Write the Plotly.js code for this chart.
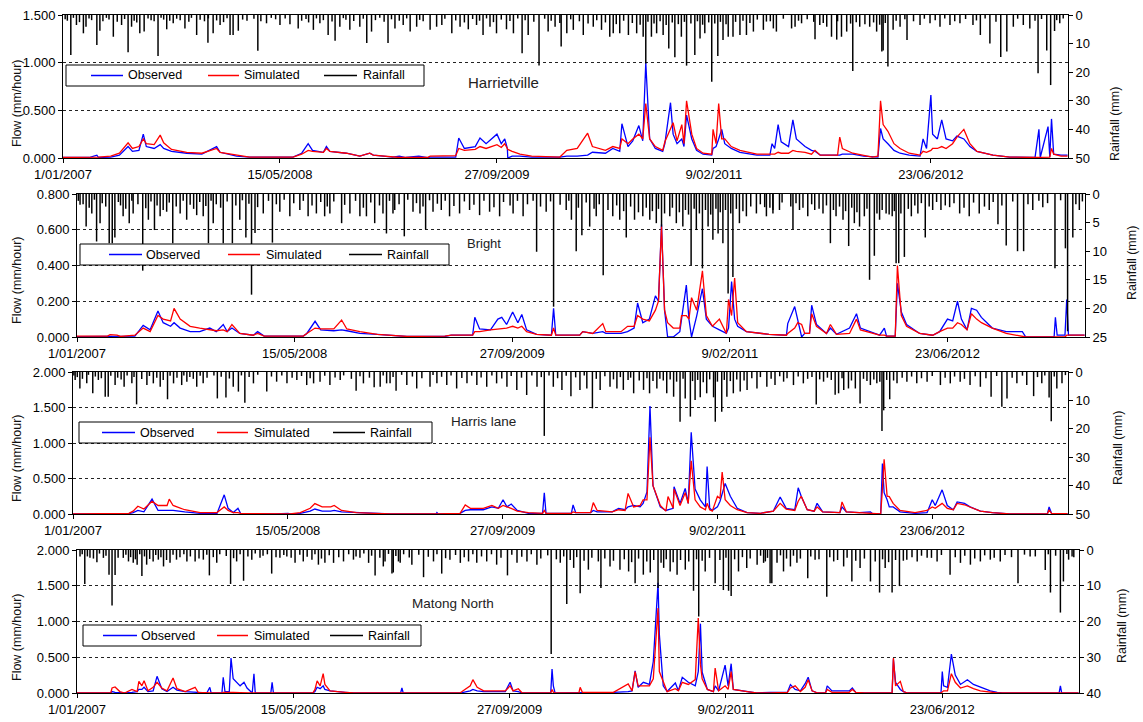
<!DOCTYPE html>
<html><head><meta charset="utf-8">
<script src="https://cdn.plot.ly/plotly-3.0.1.min.js"></script>
<style>html,body{margin:0;padding:0;background:#fff}#chart{width:1143px;height:722px}</style>
</head><body><div id="chart"></div>
<script>
// ---------- DATA (day offsets from 1/01/2007; flow in mm/hour; rain in mm) ----------
const seriesNames = ['Observed', 'Simulated', 'Rainfall'];
const siteNames = ['Harrietville', 'Bright', 'Harris lane', 'Matong North'];
const axisTitles = ['Flow (mm/hour)', 'Rainfall (mm)'];
const tickLabelStart = '2007-01-01';

// [day, observed, simulated]
const harrietvilleFlow = [[0,.005,.005],[60,.005,.005],[78,.03,.005],[82,.005,.01],[110,.01,.02],[130,.03,.05],[150,.12,.16],[160,.07,.1],[175,.08,.12],[185,.25,.2],[192,.12,.15],[210,.1,.14],[224,.14,.24],[232,.1,.16],[250,.07,.09],[285,.05,.06],[320,.04,.05],[354,.12,.1],[362,.06,.06],[400,.02,.03],[430,.01,.01],[530,.01,.01],[550,.05,.04],[565,.15,.08],[575,.08,.07],[600,.06,.06],[607,.12,.1],[615,.07,.07],[653,.05,.05],[684,.02,.02],[707,.05,.05],[715,.03,.03],[760,.01,.01],[775,.02,.005],[790,.005,.005],[820,.02,.005],[840,.005,.005],[846,.01,.02],[905,.01,.025],[912,.21,.1],[925,.1,.08],[950,.12,.09],[961,.21,.12],[975,.15,.1],[1000,.25,.14],[1010,.15,.11],[1018,.2,.15],[1024,.1,.1],[1025,0,.09],[1035,.02,.07],[1053,.02,.04],[1080,.01,.02],[1145,.01,.01],[1161,.02,.08],[1185,.02,.1],[1209,.03,.26],[1220,.06,.12],[1250,.05,.08],[1267,.1,.12],[1283,.07,.1],[1288,.36,.2],[1302,.12,.15],[1313,.18,.2],[1327,.34,.25],[1336,.18,.2],[1343,1.0,.57],[1352,.2,.2],[1365,.1,.12],[1382,.07,.08],[1387,.15,.17],[1400,.58,.3],[1406,.25,.37],[1415,.15,.18],[1426,.2,.35],[1431,.12,.15],[1437,.45,.6],[1449,.2,.25],[1460,.08,.1],[1475,.04,.05],[1495,.03,.04],[1498,.1,.3],[1505,.12,.15],[1511,.2,.57],[1518,.3,.2],[1525,.15,.2],[1540,.1,.12],[1560,.06,.08],[1599,.03,.04],[1629,.03,.04],[1634,.15,.04],[1640,.1,.04],[1648,.35,.06],[1655,.17,.05],[1672,.12,.05],[1682,.4,.08],[1690,.2,.07],[1710,.12,.06],[1725,.08,.04],[1733,.07,.08],[1745,.03,.03],[1785,.03,.03],[1790,.03,.22],[1796,.04,.1],[1820,.04,.05],[1845,.02,.03],[1865,.01,.01],[1878,.01,.02],[1884,.31,.6],[1890,.2,.35],[1901,.15,.28],[1915,.08,.15],[1929,.05,.1],[1950,.03,.05],[1975,.02,.03],[1982,.2,.07],[1990,.1,.06],[2000,.66,.08],[2004,.25,.1],[2015,.2,.1],[2025,.4,.12],[2035,.2,.1],[2050,.18,.15],[2060,.23,.22],[2076,.2,.3],[2090,.12,.15],[2106,.07,.07],[2143,.03,.03],[2182,.01,.01],[2240,.005,.005],[2249,.3,.005],[2252,.005,.005],[2270,.33,.01],[2274,.01,.01],[2278,.41,.1],[2283,.04,.04],[2300,.03,.02],[2315,.03,.02]];

const brightFlow = [[0,.002,.005],[70,.002,.005],[76,.002,.013],[92,.002,.01],[100,.002,.003],[133,.005,.01],[152,.065,.05],[168,.04,.03],[186,.145,.12],[198,.08,.1],[215,.06,.09],[223,.08,.16],[237,.05,.1],[260,.03,.06],[282,.03,.05],[305,.05,.04],[320,.03,.035],[336,.07,.04],[345,.03,.03],[356,.05,.07],[374,.02,.02],[405,.01,.01],[415,.03,.02],[430,.005,.005],[520,.005,.005],[528,.02,.02],[547,.088,.05],[560,.04,.045],[590,.035,.045],[608,.04,.095],[620,.035,.045],[650,.02,.03],[690,.015,.015],[758,.003,.003],[845,.003,.005],[860,.01,.01],[909,.01,.01],[914,.11,.03],[925,.045,.03],[950,.04,.04],[967,.1,.045],[976,.11,.05],[987,.07,.05],[1001,.14,.06],[1013,.08,.05],[1022,.126,.06],[1033,.04,.03],[1056,.015,.015],[1090,.01,.01],[1095,.16,.05],[1100,.01,.01],[1155,.01,.01],[1162,.03,.03],[1185,.02,.02],[1208,.03,.075],[1215,.02,.03],[1250,.02,.03],[1265,.03,.06],[1280,.05,.06],[1288,.19,.12],[1300,.08,.1],[1315,.1,.09],[1329,.23,.15],[1336,.2,.2],[1343,.63,.62],[1350,.15,.15],[1357,0,.08],[1370,0,.05],[1385,.03,.05],[1389,.1,.12],[1400,.29,.12],[1406,.1,.1],[1412,0,.22],[1424,.12,.15],[1437,.27,.37],[1446,.1,.12],[1460,.06,.06],[1476,.04,.1],[1492,.02,.02],[1497,.05,.21],[1504,.31,.12],[1511,.1,.33],[1518,.06,.08],[1538,.03,.03],[1590,.015,.015],[1630,.01,.01],[1633,.075,.02],[1649,.17,.05],[1656,.09,.08],[1665,0,.07],[1672,.02,.02],[1683,.02,.02],[1688,.178,.13],[1699,.07,.06],[1722,.02,.02],[1731,.05,.07],[1745,.015,.015],[1775,.05,.02],[1791,.13,.1],[1800,.05,.04],[1844,.01,.01],[1855,.05,.01],[1860,.005,.005],[1880,.005,.005],[1885,.3,.4],[1894,.14,.12],[1906,.07,.06],[1936,.02,.02],[1966,.01,.01],[1982,.03,.03],[2000,.1,.05],[2012,.09,.05],[2023,.2,.08],[2032,.1,.07],[2045,.04,.04],[2055,.16,.13],[2067,.15,.1],[2078,.11,.08],[2103,.05,.05],[2135,.03,.02],[2172,.03,.005],[2180,0,0],[2245,0,0],[2248,.11,0],[2252,.01,0],[2270,.01,0],[2274,.21,.01],[2278,.01,.01],[2315,.01,.01]];

const harrisLaneFlow = [[0,0,0],[75,0,0],[79,0,.008],[85,0,0],[130,.005,.01],[140,.02,.04],[151,.05,.11],[165,.03,.07],[184,.21,.18],[198,.05,.12],[219,.05,.12],[224,.06,.21],[233,.05,.12],[260,.03,.06],[296,.01,.02],[335,.005,.02],[352,.27,.1],[361,.08,.05],[373,.02,.02],[384,.08,.02],[390,.01,.01],[430,.005,.005],[470,0,0],[501,.01,0],[505,0,0],[529,.01,.02],[552,.04,.08],[563,.07,.146],[580,.04,.1],[600,.04,.1],[608,.05,.12],[625,.03,.05],[660,.02,.02],[700,.01,.01],[740,0,0],[845,0,0],[847,.02,0],[850,0,0],[901,.01,.01],[913,.05,.127],[925,.06,.08],[955,.06,.08],[966,.08,.1],[975,.1,.12],[990,.08,.08],[1001,.2,.12],[1010,.1,.1],[1020,.14,.08],[1034,.05,.04],[1060,.01,.02],[1093,.01,.01],[1097,.3,.05],[1101,.01,.01],[1160,.01,.01],[1164,.127,.03],[1170,.02,.02],[1205,.02,.02],[1211,.05,.16],[1220,.03,.05],[1255,.03,.03],[1270,.08,.06],[1285,.06,.05],[1292,.1,.29],[1305,.12,.1],[1320,.1,.12],[1327,.15,.2],[1336,.31,.2],[1343,1.52,1.08],[1350,.4,.4],[1367,.1,.12],[1380,.05,.04],[1385,.06,.245],[1397,.08,.08],[1399,.385,.35],[1413,.15,.12],[1425,.36,.3],[1432,.15,.15],[1439,1.15,.75],[1448,.35,.2],[1460,.2,.1],[1472,.1,.06],[1476,.67,.15],[1482,.08,.06],[1488,.05,.04],[1500,.1,.25],[1506,.18,.22],[1511,.3,.59],[1518,.43,.2],[1530,.25,.12],[1546,.08,.06],[1569,.02,.02],[1600,.01,.01],[1630,.04,.04],[1646,.24,.15],[1660,.08,.07],[1680,.06,.05],[1688,.37,.18],[1695,.25,.25],[1709,.06,.06],[1725,.04,.04],[1732,.15,.1],[1745,.03,.03],[1785,.02,.02],[1790,.1,.17],[1800,.03,.03],[1830,.02,.02],[1856,.03,.01],[1862,0,0],[1880,0,0],[1884,.71,.35],[1888,.3,.77],[1895,.2,.25],[1900,.1,.245],[1909,.1,.15],[1925,.03,.05],[1960,.01,.02],[1988,.02,.05],[2000,.2,.1],[2007,.12,.08],[2023,.34,.15],[2035,.12,.08],[2049,.06,.06],[2058,.17,.15],[2075,.15,.13],[2088,.1,.1],[2112,.04,.04],[2140,.02,.02],[2158,.01,.01],[2180,0,0],[2268,0,0],[2272,.1,.06],[2278,.005,.005],[2315,.005,.005]];

const matongNorthFlow = [[0,0,0],[78,0,0],[81,.02,.07],[88,.01,.084],[99,.005,.02],[110,0,0],[127,.01,.05],[139,.02,.02],[143,.05,.163],[150,.05,.1],[155,.08,.17],[164,.02,.03],[176,.03,.08],[185,.233,.15],[196,.06,.07],[208,.02,.03],[222,.08,.21],[231,.04,.06],[250,.02,.02],[273,.01,.08],[280,.01,.01],[300,0,0],[307,.08,0],[310,0,0],[335,0,0],[338,.22,.01],[342,.02,.01],[352,.02,.01],[356,.49,.02],[361,.2,.01],[377,.1,.005],[386,.15,0],[393,.07,0],[400,.03,0],[405,0,0],[409,.27,0],[412,0,0],[448,0,0],[451,.15,0],[454,0,0],[545,0,0],[550,.02,.05],[555,.08,.17],[562,.06,.1],[569,.1,.27],[573,.05,.12],[585,.03,.03],[620,.01,.01],[640,0,0],[748,0,0],[751,.07,0],[754,0,0],[885,0,0],[890,.005,.02],[909,.03,.1],[915,.05,.187],[925,.03,.08],[940,.02,.03],[990,.02,.03],[1001,.15,.1],[1008,.03,.03],[1020,.02,.06],[1029,0,0],[1095,0,0],[1098,.336,.05],[1101,.1,.01],[1105,0,0],[1160,0,0],[1163,.01,.08],[1168,.01,.01],[1240,.01,.01],[1274,.02,.126],[1283,.03,.03],[1290,.31,.3],[1297,.08,.1],[1309,.15,.1],[1323,.12,.1],[1332,.44,.2],[1343,1.54,1.19],[1346,.82,.3],[1355,.1,.15],[1364,.02,.02],[1383,.14,.06],[1390,.03,.03],[1399,.22,.15],[1413,.15,.12],[1429,.1,.187],[1436,.3,1.05],[1441,.97,.4],[1445,.29,.2],[1457,.05,.05],[1471,.02,.02],[1475,.1,.35],[1483,.03,.03],[1498,.39,.1],[1505,.1,.05],[1512,.41,.3],[1517,.05,.05],[1549,.02,.02],[1570,0,0],[1602,.01,0],[1642,.01,.01],[1649,.117,.07],[1660,.05,.1],[1672,.03,.02],[1683,.13,.08],[1690,.22,.186],[1699,.03,.03],[1712,0,0],[1730,0,0],[1734,.1,.05],[1745,.03,.01],[1785,.03,.01],[1792,.07,.05],[1800,.01,.01],[1820,0,0],[1884,0,0],[1887,.47,.49],[1892,.15,.1],[1903,.05,.163],[1910,.02,.02],[1920,0,0],[1997,0,0],[2000,.3,.01],[2003,.1,.03],[2012,.08,.03],[2021,.545,.27],[2030,.25,.15],[2042,.12,.07],[2058,.186,.1],[2072,.12,.06],[2088,.08,.03],[2111,.03,.01],[2127,.01,0],[2140,0,0],[2270,0,0],[2273,.1,0],[2276,0,0],[2315,0,0]];

// [day, rainfall mm]
const harrietvilleRain = [[18,14],[78,10.5],[150,13],[219,14.3],[334,9.7],[449,12.5],[627,9],[700,9.8],[749,9.8],[1058,13.4],[1097,17.7],[1148,11],[1343,17],[1396,11.7],[1410,14.8],[1437,17.7],[1456,14],[1495,23.3],[1509,14.3],[1733,8.5],[1783,8.6],[1820,19.6],[1887,12.8],[1901,18],[1945,8.7],[2136,10],[2161,14.7],[2175,12.8],[2247,20.4],[2267,12.4],[2276,24.5],[2285,5.6],
[31,3.5],[47,6.4],[53,4.1],[85,5.5],[116,7.6],[135,3.5],[158,4.1],[177,6.4],[187,5.8],[239,5],[254,2.9],[281,4.7],[308,7],[346,6.4],[362,3.5],[385,7],[392,7],[404,5.5],[469,2.9],[500,3.5],[523,3.2],[542,4.7],[577,5.2],[592,2.9],[611,7],[638,4.1],[661,5.2],[684,4.1],[711,5.8],
[765,4.7],[784,3.5],[800,5.8],[815,4.1],[846,5.2],[861,4.1],[873,3.5],[896,6.4],[915,4.1],[934,5],[953,3.5],[968,7],[984,4.1],[999,6.4],[1022,5],[1038,6.4],[1072,7],[1118,5.8],[1134,4.1],[1161,6.4],[1176,5.2],[1199,7],[1222,4.1],[1241,5.2],[1260,7.6],[1268,6.4],[1283,6.4],[1303,7],[1322,6.4],[1337,7.6],[1356,7.6],[1368,6.4],[1383,7],[1425,7.6],[1468,8.2],[1479,6.4],[1521,8.7],[1533,7.6],[1544,7.6],[1560,7],[1575,7],[1591,5.8],[1614,5.2],[1637,4.7],
[1621,2.3],[1644,5.8],[1679,4.7],[1687,4.1],[1702,2.9],[1744,3.5],[1760,4.1],[1771,7.6],[1794,7.6],[1806,5.8],[1836,4.1],[1859,4.1],[1875,5.8],[1890,12.4],[1913,5.2],[1929,4.1],[1975,3.5],[1998,2.9],[2021,4.1],[2044,3.5],[2067,2.9],[2097,3.5],[2114,7],[2190,4.1],[2213,3.5],[2228,4.7],[2297,2.9],
[5,1.5],[10,2],[24,1],[38,2.5],[60,1.2],[66,1.8],[92,2.2],[100,1],[106,1.6],[125,2.4],[142,1.4],[164,2],[170,2.6],[196,1.2],[203,1.8],[210,2.2],[226,1],[232,1.6],[246,2],[262,1.3],[270,1.8],[290,2.4],[296,1],[316,1.7],[326,2.2],[335,1.2],[354,1.9],[370,2.5],[378,1.1],[414,1.6],[424,2],[440,1.3],[456,2.2],[480,1],[490,1.5],[512,1.2],[550,2],[560,1.4],[566,2.6],[584,1.2],[600,1.8],[620,2.3],[646,1.1],[652,1.7],[670,2.1],[692,1.3],[720,1.8],[730,1],[740,2.4],[757,1.5],[775,2],[792,1.2],[822,1.7],[830,2.2],[880,1.3],[905,1.9],[925,2.6],[944,1.4],[960,2],[976,1.2],[992,2.5],[1010,1.6],[1030,2.1],[1048,1.2],[1065,1.8],[1085,2.4],[1110,1.3],[1125,2],[1145,2.8],[1170,1.5],[1190,2.2],[1210,3],[1230,1.8],[1250,2.6],[1275,3.2],[1292,2],[1312,2.8],[1330,3.4],[1348,2.4],[1362,3],[1376,2.2],[1390,3.5],[1404,2.6],[1418,3.2],[1432,2.4],[1447,3],[1462,2.2],[1474,3.4],[1488,2.6],[1502,3],[1515,2.4],[1528,3.2],[1550,2.4],[1567,2],[1583,2.8],[1600,1.6],[1630,2.2],[1660,1.3],[1695,2],[1715,1.5],[1730,2.4],[1752,2.8],[1785,2.2],[1815,3],[1828,2.5],[1848,3.2],[1868,2.6],[1882,3.4],[1895,2.8],[1920,2],[1940,1.5],[1960,2.2],[1985,1.3],[2010,1.8],[2032,1.2],[2055,2.2],[2080,1.4],[2105,1.9],[2125,1.2],[2150,2.4],[2200,1.3],[2240,2],[2255,1.4],[2290,1.8],[2305,1.2]];

const brightRain = [[21,5.7],[45,8.3],[74,8.6],[81,8.6],[87,7.6],[120,5.1],[151,13.4],[178,6.3],[220,8.6],[302,8.6],[336,8.6],[357,8.6],[388,7.6],[401,17.6],[409,6.8],[449,8.5],[608,5.1],[711,6.9],[752,7.4],[801,6.2],[1056,10.1],[1095,19.7],[1147,10],[1160,7.2],[1209,14.2],[1262,7.6],[1343,5.7],[1411,12.4],[1437,13],[1461,8],[1473,6.9],[1484,8.6],[1496,17.4],[1507,14.5],[1645,6.2],[1731,8.6],[1773,9.1],[1821,15],[1832,10.8],[1882,12.1],[1888,12.1],[1901,11],[1949,7.6],[2135,9],[2161,10],[2175,10],[2247,13],[2271,9.5],[2276,24],[2288,7.6],
[7,1.9],[34,3.4],[53,5.1],[106,3.9],[129,3.4],[164,4.5],[191,3.9],[206,3.1],[237,3.4],[252,4.5],[275,3.7],[290,3.9],[313,5.1],[374,4.5],[428,3.4],[466,3.1],[489,3.9],[512,2.8],[531,3.9],[550,3.4],[569,3.9],[581,3.4],[627,3.4],[650,3.9],[665,3.9],[684,5.1],[726,3.4],
[703,3.4],[730,2.8],[772,3.1],[788,3.4],[818,3.1],[837,2.8],[856,3.9],[879,3.4],[902,2.8],[925,3.7],[948,3.1],[971,3.9],[1002,3.4],[1025,3.9],[1078,3.1],[1124,2.8],[1136,4.5],[1178,5.7],[1193,3.9],[1231,3.9],[1247,4.5],[1281,4.5],[1300,3.9],[1316,4.5],[1331,5.1],[1362,3.9],[1377,5.1],[1392,5.7],[1423,6.3],[1450,5.7],[1522,5.1],[1538,3.9],[1561,3.4],[1584,3.9],[1599,2.8],
[1580,2.3],[1599,3.4],[1614,2.8],[1660,2.8],[1679,3.9],[1695,2.8],[1714,3.4],[1744,3.9],[1760,4.5],[1786,5.1],[1798,5.7],[1809,3.9],[1844,4.5],[1859,3.4],[1873,3.9],[1917,3.9],[1932,3.4],[1966,2.8],[1985,2.8],[2005,2.3],[2028,3.4],[2050,3.9],[2073,3.4],[2096,2.8],[2116,5.3],[2196,2.8],[2219,2.3],[2303,2.8],
[3,1.2],[14,1.8],[28,2.4],[40,1],[58,1.6],[66,2.2],[95,1.4],[100,2],[112,2.6],[126,1.2],[140,1.8],[158,2.5],[170,1.3],[184,2],[198,2.8],[212,1.5],[228,2.2],[244,1.2],[260,1.9],[268,2.6],[282,1.4],[296,2.1],[308,1.2],[320,1.8],[330,2.4],[345,1.3],[365,2],[380,1.1],[395,1.7],[415,2.3],[440,1.2],[458,1.8],[476,1],[498,1.6],[520,1.2],[540,2],[560,1.4],[575,2.2],[590,1.3],[615,1.9],[640,1.2],[658,2.4],[675,1.5],[695,2],[718,1.2],[740,1.8],[760,1],[780,1.6],[795,2.2],[810,1.1],[828,1.7],[846,1.2],[866,2.1],[890,1.3],[912,1.9],[935,1.2],[958,2.3],[980,1.4],[995,2],[1012,1.2],[1035,1.8],[1048,1.2],[1065,2.2],[1088,1.3],[1110,1.9],[1130,1.2],[1152,2.4],[1170,1.5],[1188,2.6],[1200,1.8],[1220,2.8],[1240,2],[1256,3],[1272,2.2],[1290,3.2],[1308,2.4],[1322,3],[1336,2.6],[1350,3.4],[1368,2.4],[1384,3.2],[1398,2.8],[1405,3.6],[1418,2.6],[1430,3.4],[1444,2.8],[1456,3.6],[1468,2.6],[1478,3.2],[1490,2.8],[1502,3.4],[1515,2.6],[1530,3],[1548,2.2],[1570,1.8],[1592,2.4],[1620,1.5],[1640,2.2],[1652,1.6],[1668,2.4],[1688,1.8],[1705,2.6],[1722,2],[1738,2.8],[1752,2.2],[1766,3],[1780,2.4],[1792,3.2],[1815,2.6],[1838,3.4],[1850,2.8],[1866,3.6],[1878,3],[1893,3.4],[1910,2.6],[1925,2],[1940,1.6],[1958,2.2],[1975,1.4],[1995,2],[2015,1.6],[2038,2.4],[2060,1.5],[2085,2.2],[2105,1.4],[2125,2],[2150,1.3],[2185,1.8],[2210,1.2],[2230,1.6],[2260,1.1],[2295,1.8],[2310,1.3]];

const harrisLaneRain = [[16,5.8],[46,7.5],[75,8.7],[82,8.7],[148,11.4],[220,9.6],[336,9.3],[356,9],[400,10.8],[659,6.6],[701,5.4],[752,6.6],[800,5.8],[1056,8.1],[1097,22.5],[1159,8.5],[1209,12.8],[1342,7.5],[1413,17.5],[1437,15.7],[1460,8.9],[1491,8.9],[1495,17.5],[1510,14],[1730,11.4],[1774,8],[1832,11.1],[1883,20.8],[1887,13.5],[1901,9.6],[2137,8.7],[2162,12.2],[2174,9.3],[2236,8.5],[2272,9],[2277,17.3],[2290,5.8],
[5,2.8],[32,4],[59,2.8],[98,4.6],[119,5.2],[137,4],[172,4.6],[187,4],[203,5.2],[234,4],[253,4.6],[265,3.4],[288,5.2],[303,4],[373,5.2],[385,6.9],[420,4],[451,6.9],[474,3.4],[498,4],[521,2.8],[544,4.6],[560,4],[575,3.4],[598,4.6],[622,2.8],[676,4],[715,5.2],[730,4],
[738,4],[777,4.6],[831,5.2],[847,4],[870,4.6],[893,5.8],[917,4],[940,4.6],[963,5.2],[986,4],[1010,5.2],[1033,6.3],[1080,5.2],[1118,5.2],[1138,6.3],[1180,6.3],[1196,5.8],[1227,6.3],[1250,5.2],[1266,5.8],[1281,6.3],[1305,7.5],[1328,6.3],[1359,5.8],[1382,7.5],[1398,8.7],[1425,9.3],[1448,9.9],[1475,7.5],[1522,8.7],[1537,7.5],[1553,6.9],[1569,6.3],[1592,5.8],[1615,5.2],[1634,4.6],
[1654,3.4],[1677,4.6],[1700,4],[1747,3.4],[1782,7.5],[1794,6.3],[1805,5.8],[1821,5.8],[1856,4.6],[1871,4],[1918,4],[1941,3.4],[1964,4],[1988,3.4],[2019,4.6],[2042,4],[2065,3.4],[2088,4.6],[2112,5.2],[2197,4],[2220,4.6],[2255,4],[2302,4],
[2,1.2],[10,1.8],[22,2.4],[36,1],[52,1.6],[66,2.2],[88,1.3],[104,2],[112,2.6],[126,1.2],[142,1.8],[160,2.5],[178,1.4],[195,2],[210,2.8],[226,1.3],[242,2],[258,1.2],[272,1.8],[280,2.4],[296,1.3],[312,2],[328,1.2],[345,1.7],[364,2.3],[392,1.2],[410,1.8],[430,1],[462,1.6],[486,1.2],[510,2],[532,1.4],[552,2.2],[586,1.3],[610,1.9],[630,1.2],[648,2.4],[668,1.5],[690,2],[722,1.2],[745,1.8],[765,1],[790,1.6],[812,2.2],[838,1.1],[858,1.7],[880,1.2],[905,2.1],[928,1.3],[950,1.9],[975,1.2],[998,2.3],[1020,1.4],[1044,2],[1068,1.2],[1090,1.8],[1108,1.2],[1128,2.2],[1148,1.3],[1170,1.9],[1190,1.2],[1218,2.4],[1238,1.5],[1258,2.6],[1274,1.8],[1292,2.8],[1298,2],[1318,3],[1336,2.2],[1350,3.2],[1366,2.4],[1374,3],[1390,2.6],[1405,3.4],[1420,2.4],[1442,3.2],[1454,2.8],[1467,3.6],[1482,2.6],[1500,3.4],[1516,2.8],[1530,3.2],[1545,2.6],[1562,3],[1580,2.2],[1600,1.8],[1625,2.4],[1645,1.5],[1662,2.2],[1688,1.6],[1710,2.4],[1720,1.8],[1738,2.6],[1756,2],[1765,2.8],[1790,2.2],[1812,3],[1840,2.4],[1848,3.2],[1864,2.6],[1878,3.4],[1894,2.8],[1910,3],[1930,2],[1952,1.6],[1975,2.2],[2000,1.4],[2030,2],[2052,1.6],[2075,2.4],[2100,1.5],[2125,2.2],[2150,1.4],[2186,2],[2210,1.3],[2245,1.8],[2262,1.2],[2284,1.6],[2310,1.1]];

const matongNorthRain = [[18,9.5],[46,3.4],[74,6.9],[81,15.5],[88,7],[150,7.3],[306,7.1],[355,9.5],[385,8.6],[450,6.6],[689,7.1],[728,6.6],[731,6.3],[801,7.6],[843,6.6],[995,7.1],[1096,29.1],[1132,15.1],[1163,12.1],[1211,10.6],[1290,9.3],[1343,10.6],[1425,11.4],[1437,18.6],[1475,9.3],[1494,11.2],[1506,11.4],[1512,12.9],[1606,9.3],[1602,9.3],[1689,7.9],[1733,13.1],[1791,8.8],[1834,8.8],[1855,11.9],[1884,11.9],[1901,10.1],[2018,6.9],[2175,9.3],[2238,5.6],[2250,11.9],[2273,17.5],[2280,8.8],[2304,2],
[7,1.8],[30,2.2],[61,2.2],[107,2.2],[119,3.2],[130,3.6],[139,4.1],[161,4.1],[176,3.2],[188,2.7],[200,4.6],[215,3.6],[230,2.7],[254,3.2],[273,3.2],[292,2.7],[323,3.6],[369,3.2],[404,2.7],[423,2.2],[469,2.2],[485,1.8],[504,3.6],[523,3.2],[543,2.7],[558,4.1],[573,3.6],[593,3.6],[616,3.2],[639,2.7],[654,2.2],[674,3.6],[708,4.6],[743,3.2],
[712,3.2],[747,3.6],[774,4.1],[824,3.2],[862,2.7],[886,3.6],[905,3.2],[924,3.6],[947,3.2],[970,4.1],[1017,3.6],[1040,3.2],[1063,4.1],[1117,3.6],[1148,5],[1182,5.5],[1232,4.6],[1255,5.5],[1275,6],[1309,6.9],[1325,6.3],[1356,5],[1371,6],[1387,6.9],[1406,5.5],[1452,6],[1529,6],[1548,5],[1572,4.1],[1587,3.6],
[1591,3.2],[1618,3.6],[1633,6],[1649,4.6],[1664,3.6],[1706,2.7],[1749,3.2],[1772,4.6],[1810,5],[1868,5],[1918,2.7],[1942,3.2],[1965,2.2],[1988,3.2],[2042,3.6],[2065,4.1],[2088,3.2],[2111,2.7],[2134,3.2],[2203,1.8],[2292,2.7],
[12,1.2],[24,1.8],[38,2.4],[52,1],[67,1.6],[95,2.2],[113,1.3],[124,2],[135,2.6],[145,1.2],[156,1.8],[168,2.5],[182,1.4],[194,2],[207,2.8],[222,1.3],[238,2],[247,1.2],[262,1.8],[282,2.4],[300,1.3],[315,2],[330,1.2],[345,1.7],[362,2.3],[377,1.2],[395,1.8],[412,1],[430,1.6],[440,1.2],[460,2],[478,1.4],[495,2.2],[515,1.3],[532,1.9],[550,1.2],[565,2.4],[583,1.5],[605,2],[628,1.2],[645,1.8],[663,1],[681,1.6],[700,2.2],[720,1.1],[737,1.7],[755,1.2],[768,2.1],[790,1.3],[812,1.9],[832,1.2],[852,2.3],[875,1.4],[895,2],[915,1.2],[935,1.8],[958,1.2],[980,2.2],[1005,1.3],[1028,1.9],[1050,1.2],[1072,2.4],[1088,1.5],[1108,2.6],[1125,1.8],[1140,2.8],[1155,2],[1172,3],[1190,2.2],[1205,3.2],[1220,2.4],[1240,3],[1265,2.6],[1282,3.4],[1298,2.4],[1317,3.2],[1333,2.8],[1350,3.6],[1362,2.6],[1378,3.4],[1395,2.8],[1414,3.2],[1432,2.6],[1445,3],[1462,2.2],[1486,2.8],[1500,2.2],[1520,2.6],[1538,2],[1556,2.4],[1580,1.6],[1596,2.2],[1626,1.5],[1640,2.4],[1656,1.6],[1672,2.4],[1696,1.8],[1715,2.6],[1740,2],[1758,2.8],[1780,2.2],[1800,3],[1820,2.4],[1845,3.2],[1862,2.6],[1876,3.4],[1892,2.8],[1910,3],[1930,2],[1952,1.6],[1975,2.2],[1998,1.4],[2030,2],[2052,1.6],[2075,2.4],[2098,1.5],[2120,2.2],[2145,1.4],[2160,2],[2190,1.3],[2215,1.8],[2245,1.2],[2262,1.6],[2288,1.1],[2300,1.8]];

// ---------- LAYOUT CONFIG (pixel geometry) ----------
const W = 1143, H = 722;
const seriesColors = ['#0000ff', '#ff0000', '#000000'];
const panelCfg = [
  {flow: harrietvilleFlow, rain: harrietvilleRain, px:[63,1068], py:[15,158], yMax:1.5, yDt:0.5, rMax:50, rDt:10,
   box:[66,65,424,86], items:[[25,57,60],[142,173,176],[258,291,295]], lbl:[503,82,15], ltitle:[17,103], rtitle:[1115,124]},
  {flow: brightFlow, rain: brightRain, px:[77,1085], py:[194,337], yMax:0.8, yDt:0.2, rMax:25, rDt:5,
   box:[80,244,449,265], items:[[29,62,64],[148,180,184],[269,302,305]], lbl:[484,243,13], ltitle:[17,280], rtitle:[1132,263]},
  {flow: harrisLaneFlow, rain: harrisLaneRain, px:[73,1068], py:[372,514], yMax:2.0, yDt:0.5, rMax:50, rDt:10,
   box:[79,422,432,443], items:[[23,56,59],[138,169,173],[254,286,289]], lbl:[483,421,13.5], ltitle:[17,458], rtitle:[1118,448]},
  {flow: matongNorthFlow, rain: matongNorthRain, px:[77,1079], py:[550,693], yMax:2.0, yDt:0.5, rMax:40, rDt:10,
   box:[83,625,421,646], items:[[20,54,56],[134,165,169],[247,280,283]], lbl:[453,603,13.5], ltitle:[17,637], rtitle:[1122,626]}
];

const DAY = 86400000;
const base = Date.UTC(2007, 0, 1);
const toDate = d => new Date(base + d * DAY).toISOString().slice(0, 10);
const FONT = 'Liberation Sans, Arial, sans-serif';
const fx = v => v / W, fy = v => 1 - v / H;

const traces = [];
const layout = {
  width: W, height: H, margin: {l:0, r:0, t:0, b:0},
  paper_bgcolor: '#fff', plot_bgcolor: 'rgba(0,0,0,0)',
  font: {family: FONT, size: 13, color: '#000'},
  showlegend: false, barmode: 'overlay', annotations: [], shapes: []
};

panelCfg.forEach((p, i) => {
  const n = i + 1;
  const sx = n === 1 ? '' : String(n);
  const xId = 'x' + sx, yId = 'y' + sx, rId = 'y' + (n + 4);
  const dates = p.flow.map(r => toDate(r[0]));
  traces.push({type:'scatter', mode:'lines', name: seriesNames[0], x: dates, y: p.flow.map(r => r[1]),
    xaxis: xId, yaxis: yId, line:{color: seriesColors[0], width:1.3}});
  traces.push({type:'scatter', mode:'lines', name: seriesNames[1], x: dates, y: p.flow.map(r => r[2]),
    xaxis: xId, yaxis: yId, line:{color: seriesColors[1], width:1.3}});
  traces.push({type:'bar', name: seriesNames[2], x: p.rain.map(r => toDate(r[0])), y: p.rain.map(r => r[1]),
    xaxis: xId, yaxis: rId, width: 3.4 * DAY, marker:{color:'#000', line:{width:0}}});

  layout['xaxis' + sx] = {
    domain: [fx(p.px[0]), fx(p.px[1])], anchor: yId, type: 'date',
    range: ['2007-01-01', '2013-05-05'], tick0: tickLabelStart, dtick: 500 * DAY,
    tickformat: '%-d/%m/%Y', ticks: 'outside', ticklen: 4, tickcolor: '#000',
    showline: true, linecolor: '#000', linewidth: 1, mirror: true,
    showgrid: false, zeroline: false, tickfont: {size: 13}
  };
  layout['yaxis' + sx] = {
    domain: [fy(p.py[1]), fy(p.py[0])], anchor: xId,
    range: [0, p.yMax], dtick: p.yDt, tick0: 0, tickformat: '.3f',
    ticks: 'outside', ticklen: 4, tickcolor: '#000',
    showline: true, linecolor: '#000', linewidth: 1,
    showgrid: true, gridcolor: '#222', griddash: 'dot', gridwidth: 1, zeroline: false,
    tickfont: {size: 13}
  };
  layout['yaxis' + (n + 4)] = {
    overlaying: yId, anchor: xId, side: 'right',
    range: [p.rMax, 0], dtick: p.rDt, tick0: 0,
    ticks: 'outside', ticklen: 4, tickcolor: '#000',
    showline: true, linecolor: '#000', linewidth: 1,
    showgrid: false, zeroline: false, tickfont: {size: 13}
  };

  // axis titles
  layout.annotations.push({xref:'paper', yref:'paper', x: fx(p.ltitle[0]), y: fy(p.ltitle[1]),
    xanchor:'center', yanchor:'middle', textangle:-90, text: axisTitles[0], showarrow:false,
    font:{size:12.5, color:'#111'}});
  layout.annotations.push({xref:'paper', yref:'paper', x: fx(p.rtitle[0]), y: fy(p.rtitle[1]),
    xanchor:'center', yanchor:'middle', textangle:-90, text: axisTitles[1], showarrow:false,
    font:{size:12.5, color:'#111'}});

  // site label
  layout.annotations.push({xref:'paper', yref:'paper', x: fx(p.lbl[0]), y: fy(p.lbl[1]),
    xanchor:'center', yanchor:'middle', text: siteNames[i], showarrow:false,
    font:{size: p.lbl[2], color:'#222'}});

  // legend box
  const b = p.box, cy = (b[1] + b[3]) / 2;
  layout.shapes.push({type:'rect', xref:'paper', yref:'paper', layer:'above',
    x0: fx(b[0]), x1: fx(b[2]), y0: fy(b[3]), y1: fy(b[1]),
    fillcolor:'#fff', line:{color:'#000', width:1}});
  p.items.forEach((it, k) => {
    layout.shapes.push({type:'line', xref:'paper', yref:'paper', layer:'above',
      x0: fx(b[0] + it[0]), x1: fx(b[0] + it[1]), y0: fy(cy), y1: fy(cy),
      line:{color: seriesColors[k], width:1.5}});
    layout.annotations.push({xref:'paper', yref:'paper', x: fx(b[0] + it[2]), y: fy(cy),
      xanchor:'left', yanchor:'middle', text: seriesNames[k], showarrow:false,
      font:{size:12.5, color:'#000'}});
  });
});

Plotly.newPlot('chart', traces, layout, {staticPlot: true, displayModeBar: false});
</script>
</body></html>
